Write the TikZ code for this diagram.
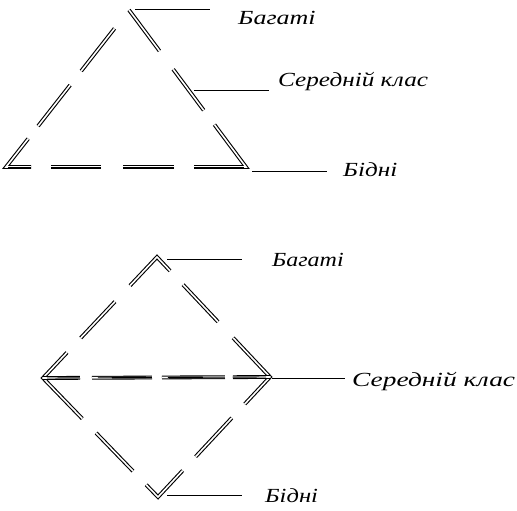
\documentclass[tikz,border=0pt]{standalone}
\usepackage{fontspec}
\setmainfont{Liberation Serif}
\usetikzlibrary{calc}
\newcommand\wtxt[2]{\scalebox{#1}[1]{#2}}
\begin{document}
\begin{tikzpicture}[x=1pt,y=-1pt,
  dbl/.style={draw=black,line width=1.1pt,double=white,double distance=1.6pt,line join=miter,line cap=butt},
  heavy/.style={draw=black,line width=0.9pt,line cap=butt},
  lead/.style={draw=black,line width=0.8pt},
  lbl/.style={inner sep=0pt,font=\fontsize{20}{22}\selectfont\itshape}]
\useasboundingbox (0,0) rectangle (517,511);
% ---------- triangle ----------
\coordinate (A) at (129,10);
\coordinate (R) at (246,167);
\coordinate (L) at (6,167);
\draw[dbl] (A) -- ($(A)!51pt!(R)$);
\draw[dbl] ($(A)!74pt!(R)$) -- ($(A)!125pt!(R)$);
\draw[dbl] ($(A)!143pt!(R)$) -- (R) -- ($(R)!52pt!(L)$);
\draw[dbl] ($(R)!72pt!(L)$) -- ($(R)!123pt!(L)$);
\draw[dbl] ($(R)!145pt!(L)$) -- ($(R)!195pt!(L)$);
\draw[dbl] ($(R)!215pt!(L)$) -- (L) -- ($(L)!36pt!(A)$);
\draw[dbl] ($(L)!52pt!(A)$) -- ($(L)!104pt!(A)$);
\draw[dbl] ($(L)!122pt!(A)$) -- ($(L)!176pt!(A)$);
% heavier lower line of the base
\begin{scope}[yshift=-2.1pt]
\draw[heavy] ($(R)+(-2,0)$) -- ($(R)!52pt!(L)$);
\draw[heavy] ($(R)!72pt!(L)$) -- ($(R)!123pt!(L)$);
\draw[heavy] ($(R)!145pt!(L)$) -- ($(R)!195pt!(L)$);
\draw[heavy] ($(R)!215pt!(L)$) -- ($(L)+(2,0)$);
\end{scope}
% labels
\node[lbl,anchor=base west] (t1) at (238,25) {\wtxt{1.3}{Багаті}};
\node[lbl,anchor=base west] (t2) at (278,86) {\wtxt{1.26}{Середній клас}};
\node[lbl,anchor=base west] (t3) at (343,176) {\wtxt{1.26}{Бідні}};
\coordinate (t1a) at (135,9);  \coordinate (t1b) at (210,9);
\coordinate (t2a) at (194,90); \coordinate (t2b) at (269,90);
\coordinate (t3a) at (252,171);\coordinate (t3b) at (327,171);
\draw[lead] (t1a) -- (t1b);
\draw[lead] (t2a) -- (t2b);
\draw[lead] (t3a) -- (t3b);
% ---------- diamond ----------
\coordinate (T) at (157,257);
\coordinate (Rt) at (270,377);
\coordinate (B) at (158,497);
\coordinate (Lf) at (43,378);
\draw[dbl] ($(T)!38pt!(Rt)$) -- ($(T)!89pt!(Rt)$);
\draw[dbl] ($(T)!111pt!(Rt)$) -- (Rt) -- ($(Rt)!37pt!(B)$);
\draw[dbl] ($(Rt)!56pt!(B)$) -- ($(Rt)!109pt!(B)$);
\draw[dbl] ($(Rt)!128pt!(B)$) -- (B) -- ($(B)!17pt!(Lf)$);
\draw[dbl] ($(B)!36pt!(Lf)$) -- ($(B)!89pt!(Lf)$);
\draw[dbl] ($(B)!109pt!(Lf)$) -- (Lf) -- ($(Lf)!35pt!(T)$);
\draw[dbl] ($(Lf)!55pt!(T)$) -- ($(Lf)!105pt!(T)$);
\draw[dbl] ($(Lf)!127pt!(T)$) -- (T) -- ($(T)!19pt!(Rt)$);
% horizontal arrow
\draw[dbl] (Lf) -- ($(Lf)!37pt!(Rt)$);
\draw[dbl] ($(Lf)!49pt!(Rt)$) -- ($(Lf)!109pt!(Rt)$);
\draw[dbl] ($(Lf)!119pt!(Rt)$) -- ($(Lf)!182pt!(Rt)$);
\draw[dbl] ($(Lf)!190pt!(Rt)$) -- (Rt);
\begin{scope}[yshift=2.1pt]
\draw[heavy] ($(Lf)+(4,0)$) -- ($(Lf)!37pt!(Rt)$);
\draw[heavy] ($(Lf)!55pt!(Rt)$) -- ($(Lf)!109pt!(Rt)$);
\draw[heavy] ($(Lf)!125pt!(Rt)$) -- ($(Lf)!182pt!(Rt)$);
\draw[heavy] ($(Lf)!190pt!(Rt)$) -- ($(Rt)+(-4,0)$);
\end{scope}
% labels
\node[lbl,anchor=base west] (d1) at (272,266) {\wtxt{1.2}{Багаті}};
\node[lbl,anchor=base west] (d2) at (352,386) {\wtxt{1.37}{Середній клас}};
\node[lbl,anchor=base west] (d3) at (265,502) {\wtxt{1.23}{Бідні}};
\coordinate (d1a) at (167,259); \coordinate (d1b) at (242,259);
\coordinate (d2a) at (272,378); \coordinate (d2b) at (345,378);
\coordinate (d3a) at (167,495); \coordinate (d3b) at (242,495);
\draw[lead] (d1a) -- (d1b);
\draw[lead] (d2a) -- (d2b);
\draw[lead] (d3a) -- (d3b);
\end{tikzpicture}
\end{document}
